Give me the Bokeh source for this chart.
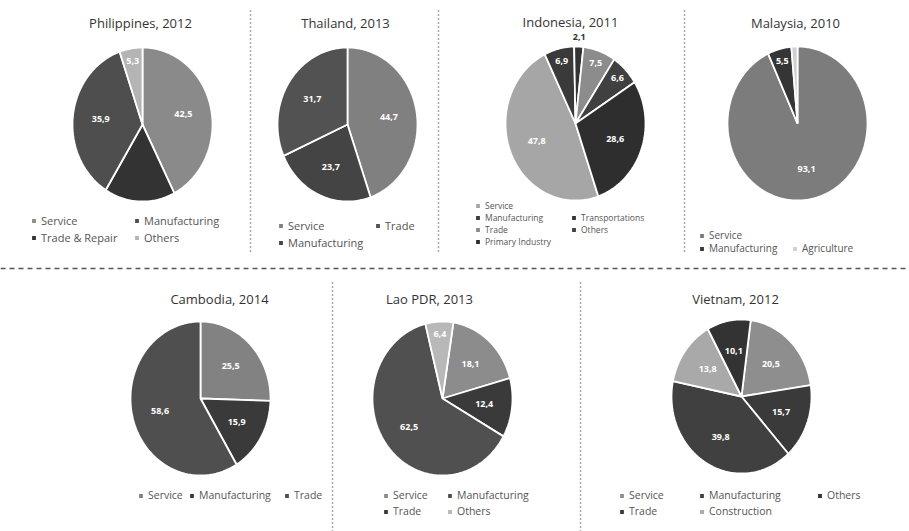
import numpy as np
from bokeh.plotting import figure
from bokeh.models import ColumnDataSource, Legend, LegendItem, Label, Range1d
from bokeh.embed import file_html
from bokeh.resources import INLINE
from bokeh.core.properties import value

W, H = 909, 531

# ------------------------------------------------------------------ data
ph_title = "Philippines, 2012"
ph_cats = ["Service", "Trade & Repair", "Manufacturing", "Others"]
ph_vals = [42.5, 16.3, 35.9, 5.3]

th_title = "Thailand, 2013"
th_cats = ["Service", "Manufacturing", "Trade"]
th_vals = [44.7, 23.7, 31.7]

id_title = "Indonesia, 2011"
id_cats = ["Service", "Manufacturing", "Transportations", "Trade", "Others", "Primary Industry"]
id_vals = [47.8, 6.9, 2.1, 7.5, 6.6, 28.6]

my_title = "Malaysia, 2010"
my_cats = ["Service", "Manufacturing", "Agriculture"]
my_vals = [93.1, 5.5, 1.4]

kh_title = "Cambodia, 2014"
kh_cats = ["Service", "Manufacturing", "Trade"]
kh_vals = [25.5, 15.9, 58.6]

la_title = "Lao PDR, 2013"
la_cats = ["Service", "Trade", "Manufacturing", "Others"]
la_vals = [18.1, 12.4, 62.5, 6.4]

vn_title = "Vietnam, 2012"
vn_cats = ["Service", "Trade", "Manufacturing", "Construction", "Others"]
vn_vals = [20.5, 15.7, 39.8, 13.8, 10.1]

# ------------------------------------------------------------------ styling / layout
FONT = "Open Sans"
RX, RY = 70, 77

# legend spec: (category, x of square, y of row centre)
panels = [
    dict(title=ph_title, cats=ph_cats, vals=ph_vals,
         colors=["#8a8a8a", "#333333", "#4e4e4e", "#b4b4b4"],
         c=(142, 124), start=0, tpos=(140, 22), hide={1}, far={3: 0.84},
         lfs="11px", legend=[("Service", 34, 223), ("Manufacturing", 137, 223),
                             ("Trade & Repair", 34, 240), ("Others", 137, 240)]),
    dict(title=th_title, cats=th_cats, vals=th_vals,
         colors=["#808080", "#444444", "#525252"],
         c=(347, 124), start=0, tpos=(345, 22), hide=set(), far={},
         lfs="11px", legend=[("Service", 281, 228), ("Trade", 378, 228),
                             ("Manufacturing", 281, 245)]),
    dict(title=id_title, cats=id_cats, vals=id_vals,
         colors=["#a6a6a6", "#3a3a3a", "#333333", "#8c8c8c", "#404040", "#2e2e2e"],
         c=(575, 123), start=161, tpos=(570, 21), hide=set(),
         far={1: 0.84, 2: 1.12, 3: 0.84, 4: 0.84},
         lfs="8.5px", legend=[("Service", 478, 206), ("Manufacturing", 478, 218),
                              ("Transportations", 574, 218), ("Trade", 478, 230),
                              ("Others", 574, 230), ("Primary Industry", 478, 242)]),
    dict(title=my_title, cats=my_cats, vals=my_vals,
         colors=["#7c7c7c", "#353535", "#d0d0d0"],
         c=(797, 123), start=0, tpos=(795, 22), hide={2}, far={1: 0.84},
         lfs="10px", legend=[("Service", 702, 237), ("Manufacturing", 702, 250),
                             ("Agriculture", 795, 250)]),
    dict(title=kh_title, cats=kh_cats, vals=kh_vals,
         colors=["#828282", "#3a3a3a", "#4f4f4f"],
         c=(200, 398), start=0, tpos=(219, 298), hide=set(), far={},
         lfs="10.5px", legend=[("Service", 141, 497), ("Manufacturing", 192, 497),
                               ("Trade", 287, 497)]),
    dict(title=la_title, cats=la_cats, vals=la_vals,
         colors=["#8c8c8c", "#3a3a3a", "#505050", "#b8b8b8"],
         c=(442, 398), start=9, tpos=(429, 298), hide=set(), far={3: 0.84},
         lfs="10.5px", legend=[("Service", 386, 497), ("Manufacturing", 450, 497),
                               ("Trade", 386, 513), ("Others", 450, 513)]),
    dict(title=vn_title, cats=vn_cats, vals=vn_vals,
         colors=["#8e8e8e", "#3a3a3a", "#404040", "#a9a9a9", "#333333"],
         c=(741, 396), start=7.6, tpos=(735, 298), hide=set(), far={},
         lfs="10.5px", legend=[("Service", 622, 497), ("Manufacturing", 702, 497),
                               ("Others", 820, 497), ("Trade", 622, 513),
                               ("Construction", 702, 513)]),
]

p = figure(width=W, height=H, x_range=Range1d(0, W), y_range=Range1d(H, 0),
           x_axis_type=None, y_axis_type=None, min_border=0,
           toolbar_location=None, output_backend="svg")
p.grid.visible = False
p.outline_line_color = None
p.background_fill_color = "white"

for pn in panels:
    vals = pn["vals"]
    cx, cy = pn["c"]
    tot = float(sum(vals))
    cum = np.radians(pn["start"])
    xs, ys, lx, ly, lt, lc = [], [], [], [], [], []
    for i, v in enumerate(vals):
        span = 2 * np.pi * v / tot
        t = np.linspace(cum, cum + span, max(4, int(np.degrees(span)) + 2))
        xs.append([cx] + list(cx + RX * np.sin(t)))
        ys.append([cy] + list(cy - RY * np.cos(t)))
        mid = cum + span / 2
        if i not in pn["hide"]:
            f = pn["far"].get(i, 0.6)
            lx.append(cx + f * RX * np.sin(mid))
            ly.append(cy - f * RY * np.cos(mid))
            lt.append(f"{v:.1f}".replace(".", ","))
            lc.append("#333333" if f > 1 else "white")
        cum += span
    src = ColumnDataSource(dict(xs=xs, ys=ys, color=pn["colors"], cat=pn["cats"], val=vals))
    r = p.patches("xs", "ys", source=src, fill_color="color", line_color="white", line_width=1.8)
    p.text(x=lx, y=ly, text=lt, text_color=lc, text_font=value(FONT), text_font_style="bold",
           text_font_size="9px", text_align="center", text_baseline="middle")
    p.add_layout(Label(x=pn["tpos"][0], y=pn["tpos"][1], text=pn["title"], text_align="center",
                       text_baseline="middle", text_font=FONT, text_font_size="13px", text_color="#333333"))
    for name, x0, yc in pn["legend"]:
        item = LegendItem(label=name, renderers=[r], index=pn["cats"].index(name))
        lg = Legend(items=[item], orientation="horizontal", location=(x0 - 4, H - yc - 5),
                    padding=0, margin=0, spacing=0,
                    glyph_width=7, glyph_height=7, label_standoff=4,
                    label_width=10, label_height=10,
                    label_text_font=FONT, label_text_font_size=pn["lfs"], label_text_color="#555555",
                    border_line_color=None, background_fill_alpha=0)
        p.add_layout(lg)

# separators
p.segment(x0=[250, 438, 684], y0=[10] * 3, x1=[250, 438, 684], y1=[254] * 3,
          line_color="#555555", line_width=1.5, line_dash="1 3")
p.segment(x0=[0], y0=[268], x1=[W], y1=[268], line_color="#555555", line_width=1.3, line_dash="5 4")
p.segment(x0=[332, 580], y0=[282] * 2, x1=[332, 580], y1=[H] * 2,
          line_color="#555555", line_width=1.5, line_dash="1 3")

open("out.html", "w").write(file_html(p, INLINE))
